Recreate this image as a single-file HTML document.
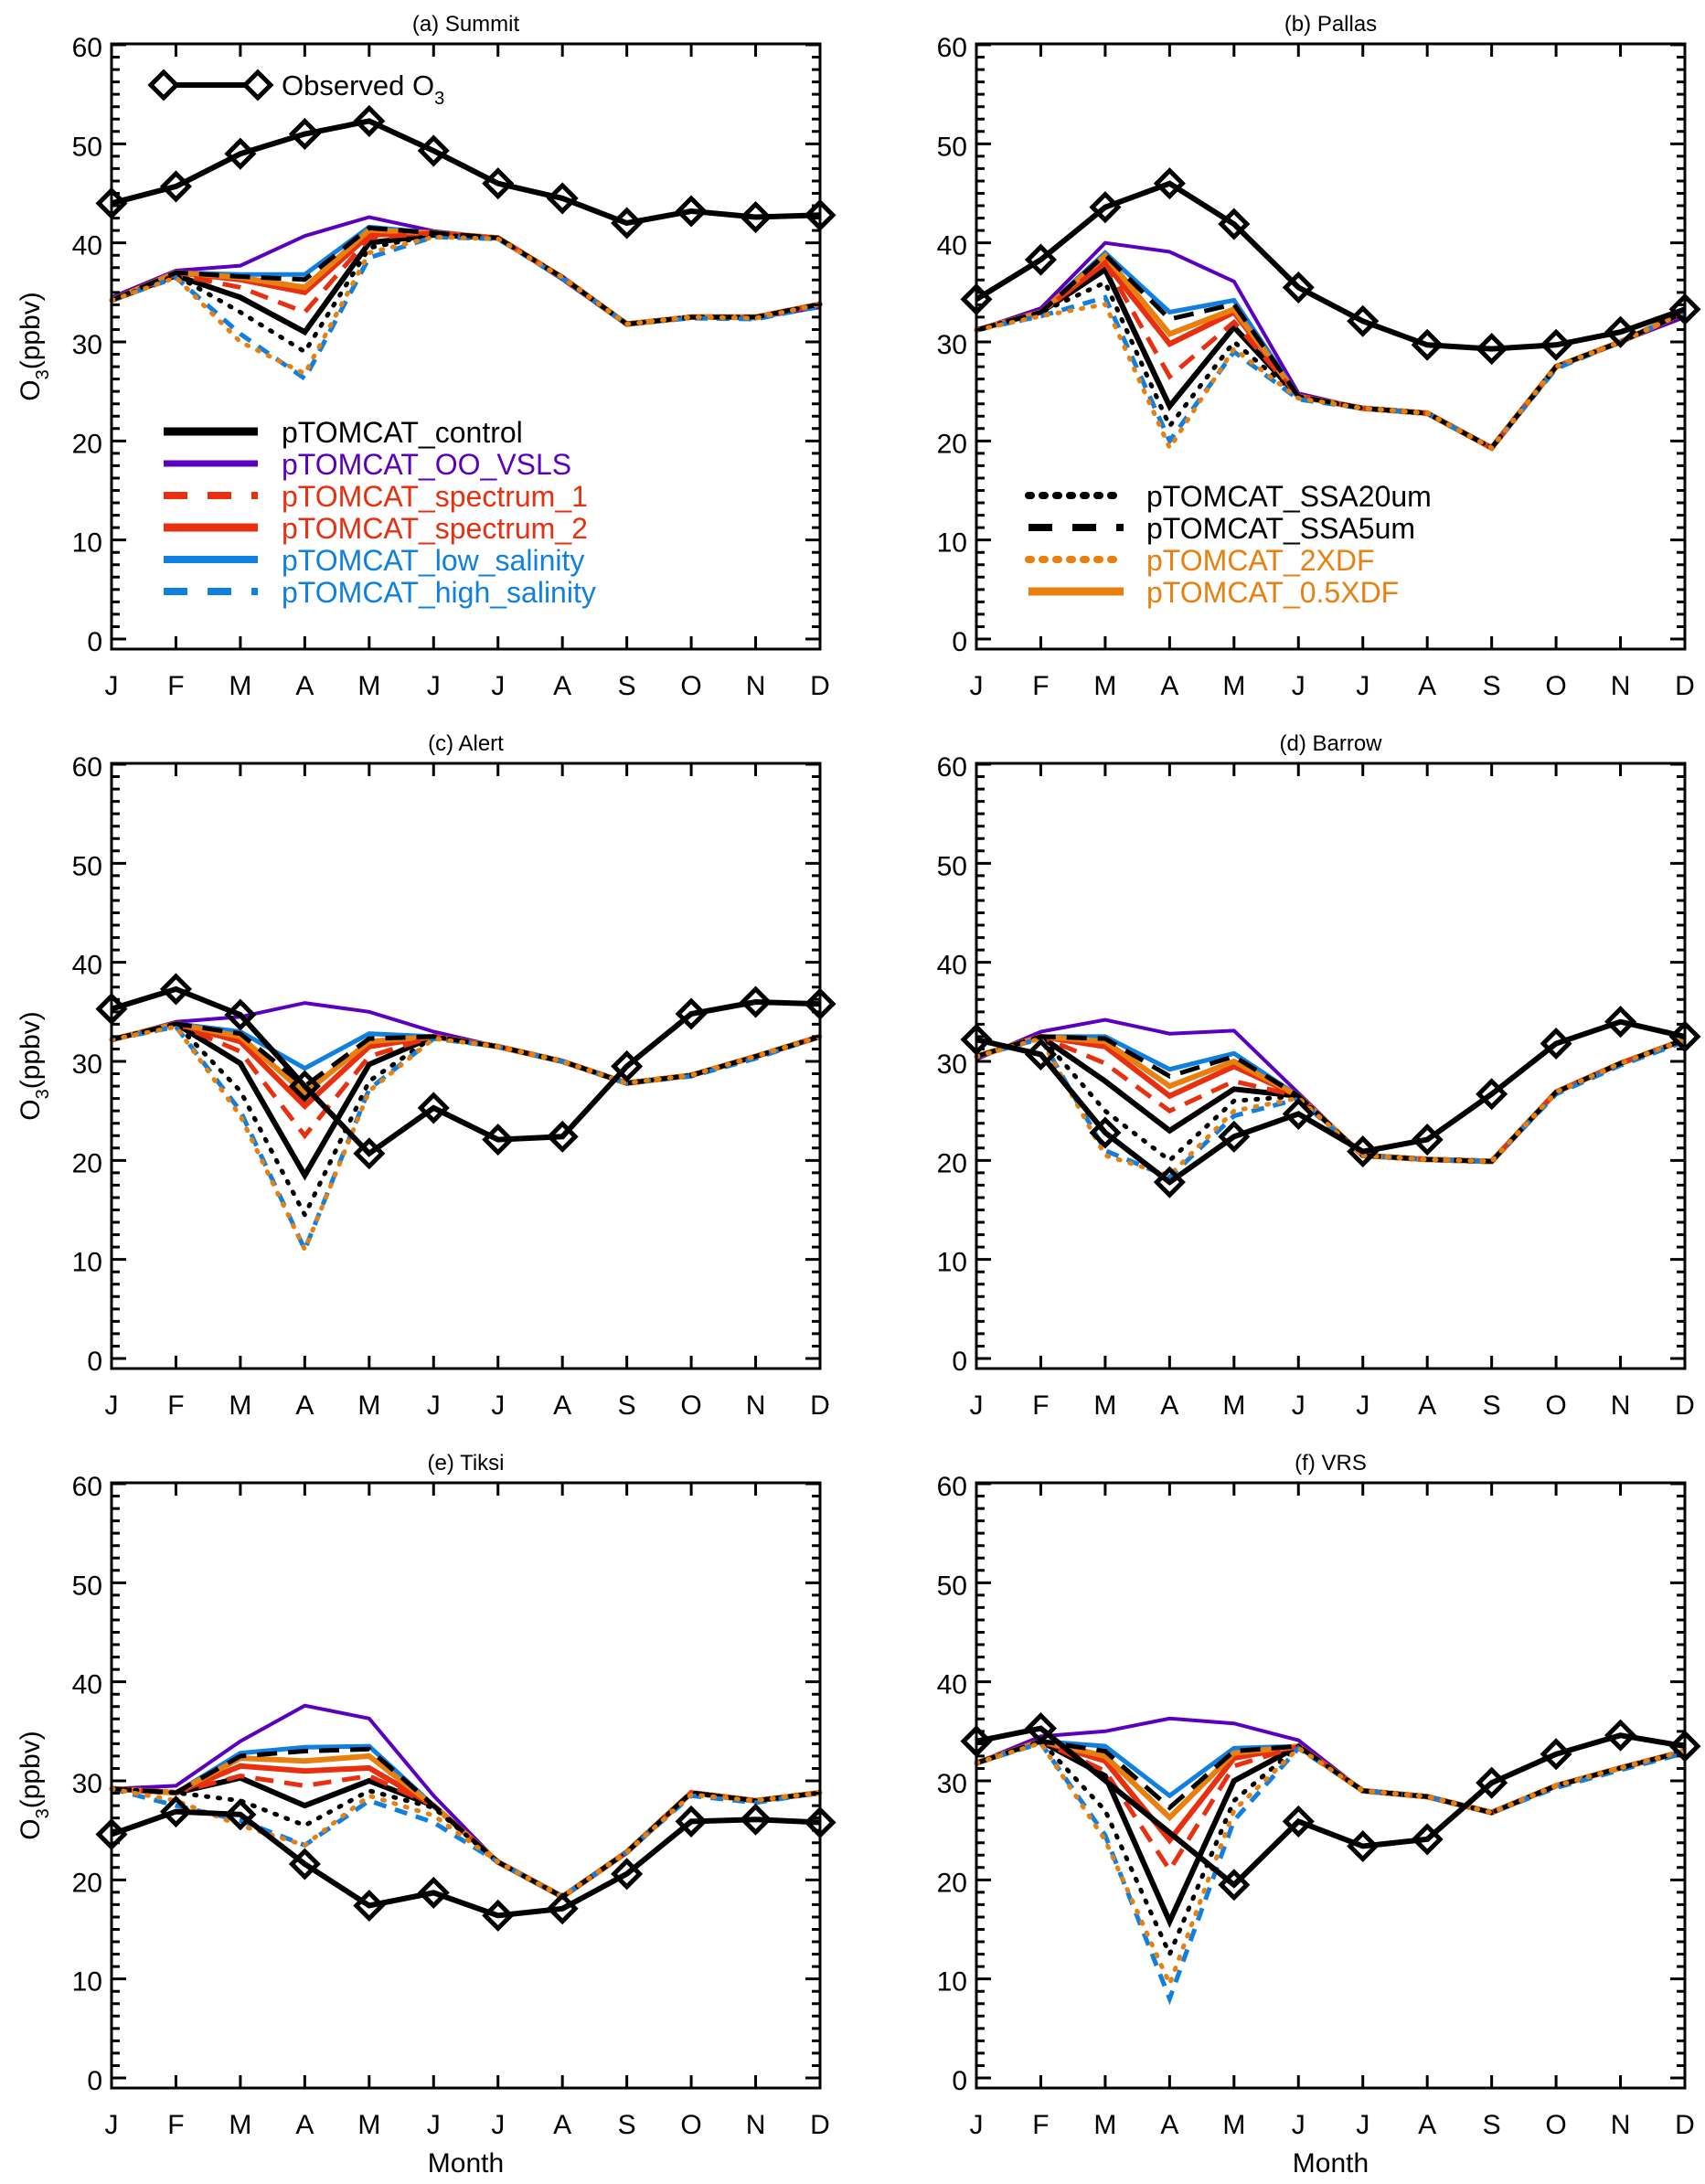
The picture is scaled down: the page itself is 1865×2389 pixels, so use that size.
<!DOCTYPE html>
<html><head><meta charset="utf-8">
<style>
html,body{margin:0;padding:0;background:#fff;}
svg{display:block;font-family:"Liberation Sans",sans-serif;}
</style></head>
<body>
<svg id="fig" width="1865" height="2389" viewBox="0 0 1865 2389" xmlns="http://www.w3.org/2000/svg"></svg>
<script>
const months = ["J","F","M","A","M","J","J","A","S","O","N","D"];
const yTicks = [0,10,20,30,40,50,60];
const panelTitles = ["(a)  Summit","(b)  Pallas","(c)  Alert","(d)  Barrow","(e)  Tiksi","(f)  VRS"];

// Summit
const obsSummit = [44,45.7,49,51,52.3,49.3,46,44.5,42,43.2,42.6,42.8];
const controlSummit = [34.2,36.7,34.5,31,40,40.8,40.5,36.5,31.8,32.5,32.5,33.8];
const vslsSummit = [34.5,37.2,37.7,40.7,42.6,41.2,40.5,36.3,31.7,32.5,32.4,33.5];
const spec1Summit = [34.2,36.8,35.5,33,40.5,41,40.5,36.5,31.8,32.5,32.5,33.8];
const spec2Summit = [34.2,37,36.3,35,40.8,41,40.5,36.5,31.8,32.5,32.5,33.8];
const lowSalSummit = [34.2,37,36.8,36.8,41.6,41,40.5,36.5,31.8,32.5,32.4,33.8];
const highSalSummit = [34.2,36.5,30.8,26.3,38.5,40.6,40.4,36.4,31.8,32.4,32.3,33.6];
const ssa20Summit = [34.2,36.7,33,29,39.5,40.8,40.5,36.5,31.8,32.5,32.5,33.8];
const ssa5Summit = [34.2,37,36.6,36.3,41.5,41,40.5,36.5,31.8,32.5,32.5,33.8];
const xdf2Summit = [34.2,36.5,30,26.8,39,40.6,40.4,36.5,31.8,32.5,32.4,33.8];
const xdf05Summit = [34.2,37,36.5,35.5,41.3,41,40.5,36.5,31.8,32.5,32.5,33.8];

// Pallas
const obsPallas = [34.3,38.3,43.6,46,41.9,35.5,32.1,29.7,29.3,29.7,31,33.3];
const controlPallas = [31.2,33,37.3,23.5,31.5,24.5,23.3,22.8,19.3,27.5,30,33];
const vslsPallas = [31.2,33.4,40,39.1,36.1,24.8,23.3,22.8,19.3,27.5,30,32.5];
const spec1Pallas = [31.2,33,38,26.5,32,24.5,23.3,22.8,19.3,27.5,30,33];
const spec2Pallas = [31.2,33,38,29.8,33,24.5,23.3,22.8,19.3,27.5,30,33];
const lowSalPallas = [31.2,33,39,33,34.2,24.5,23.3,22.8,19.3,27.5,30,33];
const highSalPallas = [31.2,32.6,34.5,20,29,24.2,23.3,22.8,19.3,27.3,30,33];
const ssa20Pallas = [31.2,33,36,21.5,30,24.5,23.3,22.8,19.3,27.5,30,33];
const ssa5Pallas = [31.2,33,38.8,32.3,33.8,24.5,23.3,22.8,19.3,27.5,30,33];
const xdf2Pallas = [31.2,32.6,33.8,19.3,29.3,24.3,23.3,22.8,19.3,27.5,30,33];
const xdf05Pallas = [31.2,33,38.7,30.8,33.3,24.5,23.3,22.8,19.3,27.5,30,33];

// Alert
const obsAlert = [35.3,37.3,34.7,27.5,20.7,25.3,22.1,22.4,29.5,34.8,36,35.8];
const controlAlert = [32.2,33.8,29.8,18.5,29.7,32.5,31.5,30,27.8,28.6,30.5,32.5];
const vslsAlert = [32.2,34,34.5,35.9,35,33,31.5,30,27.8,28.6,30.5,32.5];
const spec1Alert = [32.2,33.8,31,22.5,30.5,32.5,31.5,30,27.8,28.6,30.5,32.5];
const spec2Alert = [32.2,33.8,32,25.5,31.5,32.5,31.5,30,27.8,28.6,30.5,32.5];
const lowSalAlert = [32.2,33.8,33,29.3,32.8,32.5,31.5,30,27.8,28.6,30.5,32.5];
const highSalAlert = [32.2,33.5,25,11,27.2,32.3,31.5,30,27.8,28.5,30.3,32.5];
const ssa20Alert = [32.2,33.8,27,14.5,28,32.5,31.5,30,27.8,28.6,30.5,32.5];
const ssa5Alert = [32.2,33.8,32.8,27.5,32.3,32.5,31.5,30,27.8,28.6,30.5,32.5];
const xdf2Alert = [32.2,33.5,24.5,11,27,32.3,31.5,30,27.8,28.6,30.5,32.5];
const xdf05Alert = [32.2,33.8,32.5,26.8,32,32.5,31.5,30,27.8,28.6,30.5,32.5];

// Barrow
const obsBarrow = [32.2,30.7,22.8,17.8,22.4,24.7,20.9,22.1,26.7,31.8,34,32.5];
const controlBarrow = [30.5,32.5,28,23,27.2,26.5,20.5,20.1,19.9,26.9,29.8,32.2];
const vslsBarrow = [30.2,33,34.2,32.8,33.1,26.8,20.5,20.1,19.9,26.9,29.8,32.2];
const spec1Barrow = [30.5,32.5,29.8,25,28,26.5,20.5,20.1,19.9,26.9,29.8,32.2];
const spec2Barrow = [30.5,32.5,31.5,26.5,29.5,26.5,20.5,20.1,19.9,26.9,29.8,32.2];
const lowSalBarrow = [30.5,32.5,32.5,29.2,30.8,26.5,20.5,20.1,19.9,26.9,29.8,32.2];
const highSalBarrow = [30.5,32.3,21,18.3,24.5,26.2,20.5,20.1,19.9,26.7,29.6,32];
const ssa20Barrow = [30.5,32.5,25,20,26,26.5,20.5,20.1,19.9,26.9,29.8,32.2];
const ssa5Barrow = [30.5,32.5,32.3,28.5,30.5,26.5,20.5,20.1,19.9,26.9,29.8,32.2];
const xdf2Barrow = [30.5,32.3,20.5,18.5,25,26.3,20.5,20.1,19.9,26.9,29.8,32.2];
const xdf05Barrow = [30.5,32.5,32,27.5,30,26.5,20.5,20.1,19.9,26.9,29.8,32.2];

// Tiksi
const obsTiksi = [24.6,26.9,26.6,21.6,17.4,18.7,16.4,17.1,20.6,25.9,26.1,25.8];
const controlTiksi = [29.2,28.8,30.3,27.5,30,27.5,21.8,18.3,22.8,28.8,28,28.8];
const vslsTiksi = [29.2,29.5,34,37.6,36.3,28.5,21.8,18.3,22.8,28.8,28,28.8];
const spec1Tiksi = [29.2,28.8,30.5,29.5,30.5,27.5,21.8,18.3,22.8,28.8,28,28.8];
const spec2Tiksi = [29.2,28.8,31.5,31,31.3,27.5,21.8,18.3,22.8,28.8,28,28.8];
const lowSalTiksi = [29.2,28.8,32.8,33.4,33.5,27.5,21.8,18.3,22.8,28.8,28,28.8];
const highSalTiksi = [29.2,27.5,26,23.5,28,25.8,21.8,18.3,22.8,28.5,27.8,28.8];
const ssa20Tiksi = [29.2,28.8,28,25.5,29,27.3,21.8,18.3,22.8,28.8,28,28.8];
const ssa5Tiksi = [29.2,28.8,32.5,33,33.2,27.5,21.8,18.3,22.8,28.8,28,28.8];
const xdf2Tiksi = [29.2,28,25.5,23.5,28.5,26.5,21.8,18.3,22.8,28.6,28,28.8];
const xdf05Tiksi = [29.2,28.8,32.3,32,32.5,27.5,21.8,18.3,22.8,28.8,28,28.8];

// VRS (observations missing in March/April)
const obsVRS = [34,35.3,null,null,19.5,25.9,23.4,24.1,29.8,32.7,34.6,33.5];
const controlVRS = [31.8,34,30.5,15.8,30,33.5,29,28.4,26.8,29.5,31.3,33];
const vslsVRS = [31.8,34.5,35,36.3,35.8,34.1,29,28.4,26.8,29.5,31.3,33];
const spec1VRS = [31.8,34,31,21,31.5,33.5,29,28.4,26.8,29.5,31.3,33];
const spec2VRS = [31.8,34,32,24,32.3,33.5,29,28.4,26.8,29.5,31.3,33];
const lowSalVRS = [31.8,34,33.5,28.5,33.3,33.5,29,28.4,26.8,29.5,31.3,33];
const highSalVRS = [31.8,33.8,24.5,8,26,33.3,29,28.4,26.8,29.3,31.1,32.8];
const ssa20VRS = [31.8,34,27,12.5,28,33.5,29,28.4,26.8,29.5,31.3,33];
const ssa5VRS = [31.8,34,33,27.3,33,33.5,29,28.4,26.8,29.5,31.3,33];
const xdf2VRS = [31.8,33.8,24,9.5,27,33.3,29,28.4,26.8,29.5,31.3,33];
const xdf05VRS = [31.8,34,32.5,26.3,32.8,33.5,29,28.4,26.8,29.5,31.3,33];

const NS = "http://www.w3.org/2000/svg";
const svg = document.getElementById("fig");
function mk(tag, attrs, parent){
  const e = document.createElementNS(NS, tag);
  for (const k in attrs) e.setAttribute(k, attrs[k]);
  (parent||svg).appendChild(e);
  return e;
}

const styles = {
  vsls:   {color:"#5a00c0", w:4, dash:null, cap:"butt"},
  control:{color:"#000000", w:6, dash:null, cap:"butt"},
  spec2:  {color:"#e83010", w:6, dash:null, cap:"butt"},
  lowSal: {color:"#1080e0", w:5, dash:null, cap:"butt"},
  xdf05:  {color:"#e8800f", w:6, dash:null, cap:"butt"},
  spec1:  {color:"#e83010", w:5, dash:"20 12", cap:"butt"},
  ssa20:  {color:"#000000", w:5, dash:"2 11", cap:"round"},
  highSal:{color:"#1080e0", w:5, dash:"14 10", cap:"butt"},
  ssa5:   {color:"#000000", w:5, dash:"22 12", cap:"butt"},
  xdf2:   {color:"#e8800f", w:5, dash:"2 11", cap:"round"}
};

const panels = [
  {left:122, top:48, obs:obsSummit, s:{ssa20:ssa20Summit,highSal:highSalSummit,xdf2:xdf2Summit,control:controlSummit,spec1:spec1Summit,spec2:spec2Summit,xdf05:xdf05Summit,lowSal:lowSalSummit,ssa5:ssa5Summit,vsls:vslsSummit}},
  {left:1068, top:48, obs:obsPallas, s:{ssa20:ssa20Pallas,highSal:highSalPallas,xdf2:xdf2Pallas,control:controlPallas,spec1:spec1Pallas,spec2:spec2Pallas,xdf05:xdf05Pallas,lowSal:lowSalPallas,ssa5:ssa5Pallas,vsls:vslsPallas}},
  {left:122, top:835, obs:obsAlert, s:{ssa20:ssa20Alert,highSal:highSalAlert,xdf2:xdf2Alert,control:controlAlert,spec1:spec1Alert,spec2:spec2Alert,xdf05:xdf05Alert,lowSal:lowSalAlert,ssa5:ssa5Alert,vsls:vslsAlert}},
  {left:1068, top:835, obs:obsBarrow, s:{ssa20:ssa20Barrow,highSal:highSalBarrow,xdf2:xdf2Barrow,control:controlBarrow,spec1:spec1Barrow,spec2:spec2Barrow,xdf05:xdf05Barrow,lowSal:lowSalBarrow,ssa5:ssa5Barrow,vsls:vslsBarrow}},
  {left:122, top:1622, obs:obsTiksi, s:{ssa20:ssa20Tiksi,highSal:highSalTiksi,xdf2:xdf2Tiksi,control:controlTiksi,spec1:spec1Tiksi,spec2:spec2Tiksi,xdf05:xdf05Tiksi,lowSal:lowSalTiksi,ssa5:ssa5Tiksi,vsls:vslsTiksi}},
  {left:1068, top:1622, obs:obsVRS, s:{ssa20:ssa20VRS,highSal:highSalVRS,xdf2:xdf2VRS,control:controlVRS,spec1:spec1VRS,spec2:spec2VRS,xdf05:xdf05VRS,lowSal:lowSalVRS,ssa5:ssa5VRS,vsls:vslsVRS}}
];
const W = 775, H = 662, K = 650/60;

panels.forEach((p, pi) => {
  const g = mk("g", {});
  
  
  const xs = i => p.left + i * W / 11;
  const ys = v => p.top + 1 + (60 - v) * K;

  const t = mk("text", {x:p.left + W/2, y:p.top - 14, "text-anchor":"middle", "font-size":"24"}, g);
  t.textContent = panelTitles[pi];
  
  

  Object.keys(styles).forEach(key => {
    const st = styles[key], vals = p.s[key];
    const pts = vals.map((v,i)=> xs(i).toFixed(1)+","+ys(v).toFixed(1)).join(" ");
    const pl = mk("polyline", {points:pts, fill:"none", stroke:st.color, "stroke-width":st.w, "stroke-linejoin":"miter", "stroke-linecap":st.cap}, g);
    if (st.dash) pl.setAttribute("stroke-dasharray", st.dash);
    
    
  });

  const op = [];
  p.obs.forEach((v,i)=>{ if(v!==null) op.push(xs(i).toFixed(1)+","+ys(v).toFixed(1)); });
  const ol = mk("polyline", {points:op.join(" "), fill:"none", stroke:"#000", "stroke-width":6}, g);
  
  
  p.obs.forEach((v,i)=>{
    if (v===null) return;
    const cx = xs(i), cy = ys(v), r = 14;
    const d = mk("polygon", {points:`${cx-r},${cy} ${cx},${cy-r} ${cx+r},${cy} ${cx},${cy+r}`, fill:"none", stroke:"#000", "stroke-width":5}, g);
    
    
  });

  const fr = mk("rect", {x:p.left, y:p.top, width:W, height:H, fill:"none", stroke:"#000", "stroke-width":3}, g);
  
  

  let tk = "";
  for (let v = 0; v <= 60.01; v += 1.25) {
    const major = Math.abs(v/10 - Math.round(v/10)) < 1e-6;
    const L = major ? 16 : 9, y = ys(v);
    tk += `M${p.left},${y}h${L}M${p.left+W},${y}h${-L}`;
  }
  for (let i = 1; i < 11; i++) {
    const x = xs(i);
    tk += `M${x},${p.top+H}v-14M${x},${p.top}v14`;
  }
  const tp = mk("path", {d:tk, stroke:"#000", "stroke-width":3, fill:"none"}, g);
  
  

  yTicks.forEach(v=>{
    const l = mk("text", {x:p.left - 10, y:ys(v) + 13, "text-anchor":"end", "font-size":"30"}, g);
    l.textContent = v;
    
    
  });
  months.forEach((m,i)=>{
    const l = mk("text", {x:xs(i), y:p.top + H + 50, "text-anchor":"middle", "font-size":"30"}, g);
    l.textContent = m;
    
    
  });

  if (pi % 2 === 0) {
    const yt = mk("text", {transform:`translate(43,${p.top+H/2}) rotate(-90)`, "text-anchor":"middle", "font-size":"30"}, g);
    yt.innerHTML = 'O<tspan font-size="20" dy="10">3</tspan><tspan dy="-10">(ppbv)</tspan>';
    
    
  }
  if (pi >= 4) {
    const xt = mk("text", {x:p.left + W/2, y:2376, "text-anchor":"middle", "font-size":"30"}, g);
    xt.textContent = "Month";
    
    
  }
});

function legendRow(x1, x2, tx, y, key, label, color){
  const st = styles[key];
  const ln = mk("line", {x1:x1, y1:y, x2:x2, y2:y, stroke:st.color, "stroke-width":st.w+3, "stroke-linecap":st.cap});
  if (st.dash) ln.setAttribute("stroke-dasharray", st.dash === "2 11" ? "3 12" : "26 22");
  
  
  const t = mk("text", {x:tx, y:y+12, "font-size":"32", fill:color});
  t.textContent = label;
  
  
}
(function(){
  const y = 93;
  const l = mk("line", {x1:179, y1:y, x2:282, y2:y, stroke:"#000", "stroke-width":6});
  
  
  [179,282].forEach(cx=>{
    const r = 14;
    const d = mk("polygon", {points:`${cx-r},${y} ${cx},${y-r} ${cx+r},${y} ${cx},${y+r}`, fill:"#fff", stroke:"#000", "stroke-width":5});
    
    
  });
  const t = mk("text", {x:308, y:y+11, "font-size":"31"});
  t.innerHTML = 'Observed  O<tspan font-size="20" dy="10">3</tspan>';
  
  
})();
legendRow(179,282,308,472,"control","pTOMCAT_control","#000");
legendRow(179,282,308,507,"vsls","pTOMCAT_OO_VSLS","#5a00c0");
legendRow(179,282,308,542,"spec1","pTOMCAT_spectrum_1","#e83010");
legendRow(179,282,308,577,"spec2","pTOMCAT_spectrum_2","#e83010");
legendRow(179,282,308,612,"lowSal","pTOMCAT_low_salinity","#1080e0");
legendRow(179,282,308,647,"highSal","pTOMCAT_high_salinity","#1080e0");
legendRow(1125,1229,1254,542,"ssa20","pTOMCAT_SSA20um","#000");
legendRow(1125,1229,1254,577,"ssa5","pTOMCAT_SSA5um","#000");
legendRow(1125,1229,1254,612,"xdf2","pTOMCAT_2XDF","#e8800f");
legendRow(1125,1229,1254,647,"xdf05","pTOMCAT_0.5XDF","#e8800f");
</script>
</body></html>
